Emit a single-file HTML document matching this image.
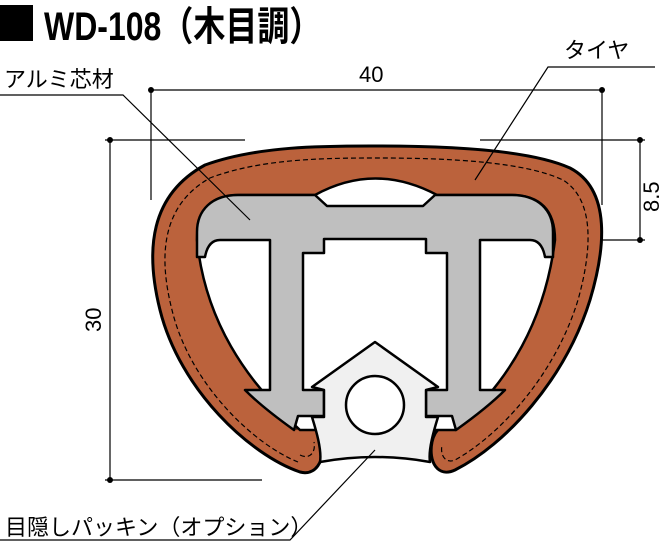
<!DOCTYPE html>
<html><head><meta charset="utf-8"><style>
html,body{margin:0;padding:0;background:#fff}
body{width:672px;height:546px;overflow:hidden;position:relative}
</style></head><body>
<svg width="672" height="546" viewBox="0 0 672 546" xmlns="http://www.w3.org/2000/svg" style="position:absolute;left:0;top:0">
<rect x="0" y="5" width="33" height="36" fill="#000"/>
<text x="0" y="0" transform="translate(44,40) scale(0.8,1)" font-family="Liberation Sans, Noto Sans CJK JP, sans-serif" font-weight="bold" font-size="40" fill="#000">WD-108（木目調）</text>
<g font-family="Liberation Sans, Noto Sans CJK JP, sans-serif" font-size="22" fill="#000">
<text x="4" y="87">アルミ芯材</text>
<text x="564" y="58">タイヤ</text>
<text x="359" y="82">40</text>
<text x="5" y="535">目隠しパッキン（オプション）</text>
<text transform="translate(659,212) rotate(-90)">8.5</text>
<text transform="translate(101,332) rotate(-90)">30</text>
</g>
<g stroke="#000" stroke-width="1.2" fill="none">
<line x1="151" y1="90" x2="602" y2="90"/>
<line x1="151" y1="90" x2="151" y2="200"/>
<line x1="602" y1="90" x2="602" y2="205"/>
<line x1="640" y1="140" x2="640" y2="240"/>
<line x1="480" y1="140" x2="645" y2="140"/>
<line x1="588" y1="240" x2="645" y2="240"/>
<line x1="110" y1="140" x2="110" y2="480"/>
<line x1="105" y1="140" x2="245" y2="140"/>
<line x1="105" y1="480" x2="262" y2="480"/>
</g>
<g fill="#000"><circle cx="151" cy="90" r="3"/><circle cx="602" cy="90" r="3"/><circle cx="640" cy="140" r="3"/><circle cx="640" cy="240" r="3"/><circle cx="110" cy="140" r="3"/><circle cx="110" cy="480" r="3"/></g>
<path d="M300,472 C250,455 180,390 160,310 C145,250 150,195 205,165 C260,145 330,146 380,146 C450,146 530,150 570,168 C612,190 605,250 590,300 C565,380 505,445 455,470 C438,478 428,462 432,442 C435,428 445,422 452,428 L300,428 C310,422 320,430 322,442 C325,462 315,476 300,472 Z" fill="#bb623c" stroke="#000" stroke-width="3"/>
<path d="M298,462 C255,445 190,385 172,310 C158,255 162,205 210,178 C262,158 330,158 380,158 C450,158 525,162 563,180 C595,200 592,250 578,300 C555,375 500,435 455,460 C445,464 440,455 442,445" fill="none" stroke="#000" stroke-width="1.2" stroke-dasharray="5,3"/>
<path d="M300,455 C310,460 316,452 314,442" fill="none" stroke="#000" stroke-width="1.2" stroke-dasharray="5,3"/>
<path d="M197,240 C197,205 215,195 240,195 L315,195 Q375,162 437,195 L510,195 C540,195 555,210 555,240 C545,320 510,380 455,430 L300,430 C245,380 205,320 197,240 Z" fill="#fff" stroke="#000" stroke-width="2.5"/>
<path d="M197,257 L197,232 C197,210 212,195 238,195 L315,195 L327,206 L423,206 L435,195 L512,195 C538,195 553,210 553,232 L553,257 L545,257 C543,246 538,240 530,240 L480,240 L480,390 L505,390 C490,405 470,420 456,430 L452,416 L426,416 L426,390 L447,390 L447,253 L426,253 L426,239 L324,239 L324,253 L303,253 L303,390 L324,390 L324,416 L298,416 L294,430 C280,420 260,405 245,390 L270,390 L270,240 L220,240 C212,240 207,246 205,257 Z" fill="#bfbfbf" stroke="#000" stroke-width="2.5" stroke-linejoin="round"/>
<path d="M375,342 L438,387 L426,390 L426,417 L438,417 C434,430 428,450 430,462 Q375,452 320,462 C322,450 316,430 312,417 L324,417 L324,390 L312,387 Z" fill="#f0f0f0" stroke="#000" stroke-width="2.5" stroke-linejoin="round"/>
<circle cx="375" cy="405" r="29" fill="#fff" stroke="#000" stroke-width="2.5"/>
<g stroke="#000" stroke-width="1.2" fill="none">
<polyline points="0,95 123,95 250,220"/>
<polyline points="655,67 548,67 475,180"/>
<polyline points="0,540 290,540 375,450"/>
</g>
</svg>
</body></html>
